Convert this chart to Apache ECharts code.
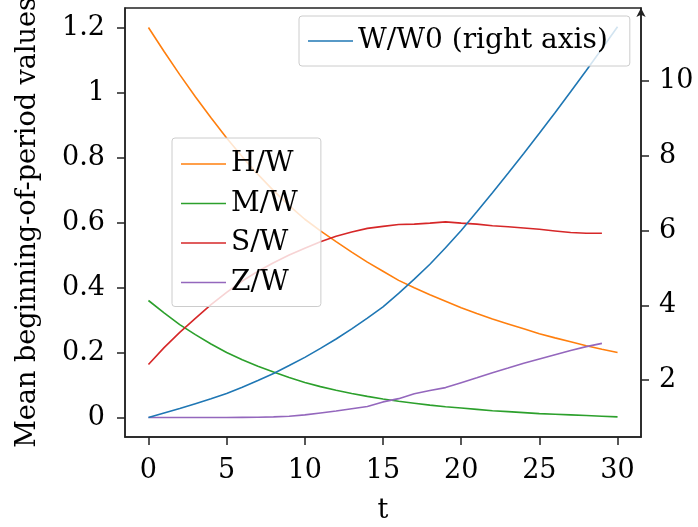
<!DOCTYPE html>
<html>
<head>
<meta charset="utf-8">
<script src="https://cdn.jsdelivr.net/npm/echarts@6/dist/echarts.min.js"></script>
<style>
  html, body { margin: 0; padding: 0; background: #fff; }
  #main { width: 698px; height: 527px; }
</style>
</head>
<body>
<div id="main"></div>
<script>
var chart = echarts.init(document.getElementById('main'));

// values
var t = [0, 1, 2, 3, 4, 5, 6, 7, 8, 9, 10, 11, 12, 13, 14, 15, 16, 17, 18, 19, 20,
         21, 22, 23, 24, 25, 26, 27, 28, 29, 30];
var hW = [1.200, 1.126, 1.055, 0.987, 0.922, 0.860, 0.802, 0.748, 0.698, 0.652, 0.610,
          0.574, 0.541, 0.509, 0.478, 0.450, 0.422, 0.399, 0.378, 0.358, 0.338,
          0.320, 0.303, 0.288, 0.273, 0.258, 0.245, 0.233, 0.221, 0.210, 0.200];
var mW = [0.360, 0.322, 0.286, 0.255, 0.226, 0.200, 0.178, 0.158, 0.140, 0.123, 0.108,
          0.095, 0.084, 0.074, 0.065, 0.057, 0.050, 0.044, 0.038, 0.033, 0.029,
          0.025, 0.021, 0.018, 0.015, 0.012, 0.010, 0.008, 0.006, 0.004, 0.002];
var sW = [0.163, 0.215, 0.262, 0.305, 0.347, 0.385, 0.420, 0.450, 0.476, 0.500, 0.521,
          0.541, 0.558, 0.571, 0.582, 0.588, 0.594, 0.595, 0.598, 0.602, 0.598,
          0.595, 0.590, 0.587, 0.583, 0.579, 0.574, 0.569, 0.567, 0.567];
var zW = [0, 0, 0, 0, 0, 0, 0.0005, 0.001, 0.002, 0.004, 0.008,
          0.014, 0.020, 0.027, 0.034, 0.048, 0.058, 0.073, 0.083, 0.092, 0.107,
          0.122, 0.138, 0.152, 0.167, 0.180, 0.193, 0.206, 0.218, 0.228];
var wW0 = [1.00, 1.12, 1.24, 1.37, 1.50, 1.64, 1.81, 1.99, 2.18, 2.39, 2.61,
           2.85, 3.10, 3.37, 3.66, 3.96, 4.32, 4.70, 5.10, 5.54, 6.00,
           6.50, 7.01, 7.53, 8.06, 8.60, 9.15, 9.71, 10.28, 10.86, 11.45];

var xTicks = [0, 5, 10, 15, 20, 25, 30];
var leftTicks = [0, 0.2, 0.4, 0.6, 0.8, 1, 1.2];
var rightTicks = [2, 4, 6, 8, 10];

function pairs(vals) {
    return vals.map(function (v, i) { return [t[i], v]; });
}

var font = 'DejaVu Serif';
var fs = 27;
var ink = '#222';

function lineSeries(name, vals, color, yIdx) {
    return {
        name: name,
        type: 'line',
        yAxisIndex: yIdx,
        data: pairs(vals),
        symbol: 'none',
        color: color,
        lineStyle: { width: 1.6, color: color },
        z: yIdx === 1 ? 3 : 2
    };
}

var legendBox = {
    orient: 'vertical',
    icon: 'rect',
    itemWidth: 45,
    itemHeight: 1.6,
    itemGap: 9.5,
    backgroundColor: 'rgba(255,255,255,0.8)',
    borderColor: '#cccccc',
    borderWidth: 1,
    borderRadius: 3,
    textStyle: { fontFamily: font, fontSize: 28, color: '#000', lineHeight: 30 }
};

option = {
    animation: false,
    grid: {
        left: 125, right: 57, top: 8, bottom: 90,
        outerBoundsMode: 'none',
        containLabel: false,
        show: true, borderColor: ink, borderWidth: 1.5, backgroundColor: 'transparent'
    },
    legend: [
        Object.assign({}, legendBox, {
            data: ['W/W0 (right axis)'],
            left: 299, top: 16,
            padding: [10, 22, 10, 9]
        }),
        Object.assign({}, legendBox, {
            data: ['H/W', 'M/W', 'S/W', 'Z/W'],
            left: 172, top: 138,
            padding: [11, 23, 9, 9]
        })
    ],
    xAxis: {
        type: 'value',
        min: -1.5,
        max: 31.5,
        name: 't',
        nameLocation: 'middle',
        nameGap: 60,
        nameTextStyle: { fontFamily: font, fontSize: fs, color: '#000' },
        axisLine: { show: true, onZero: false, lineStyle: { color: ink, width: 1.5 } },
        axisTick: { show: true, length: 8, customValues: xTicks, lineStyle: { color: ink, width: 1.5 } },
        axisLabel: { customValues: xTicks, margin: 20, fontFamily: font, fontSize: fs, color: '#000' },
        splitLine: { show: false }
    },
    yAxis: [{
        type: 'value',
        min: -0.06,
        max: 1.26,
        name: 'Mean beginning-of-period values',
        nameLocation: 'middle',
        nameGap: 84,
        nameTextStyle: { fontFamily: font, fontSize: fs, color: '#000' },
        axisLine: { show: true, onZero: false, lineStyle: { color: ink, width: 1.5 } },
        axisTick: { show: true, length: 8, customValues: leftTicks, lineStyle: { color: ink, width: 1.5 } },
        axisLabel: { customValues: leftTicks, margin: 20, fontFamily: font, fontSize: fs, color: '#000' },
        splitLine: { show: false }
    }, {
        type: 'value',
        position: 'right',
        min: 0.48,
        max: 11.95,
        axisLine: {
            show: true, onZero: false, symbol: ['none', 'arrow'], symbolSize: [7, 9],
            lineStyle: { color: ink, width: 1.5 }
        },
        axisTick: { show: true, length: 8, customValues: rightTicks, lineStyle: { color: ink, width: 1.5 } },
        axisLabel: { customValues: rightTicks, margin: 18, fontFamily: font, fontSize: fs, color: '#000' },
        splitLine: { show: false }
    }],
    series: [
        lineSeries('H/W', hW, '#ff7f0e', 0),
        lineSeries('M/W', mW, '#2ca02c', 0),
        lineSeries('S/W', sW, '#d62728', 0),
        lineSeries('Z/W', zW, '#9467bd', 0),
        lineSeries('W/W0 (right axis)', wW0, '#1f77b4', 1)
    ]
};

chart.setOption(option);
</script>
</body>
</html>
